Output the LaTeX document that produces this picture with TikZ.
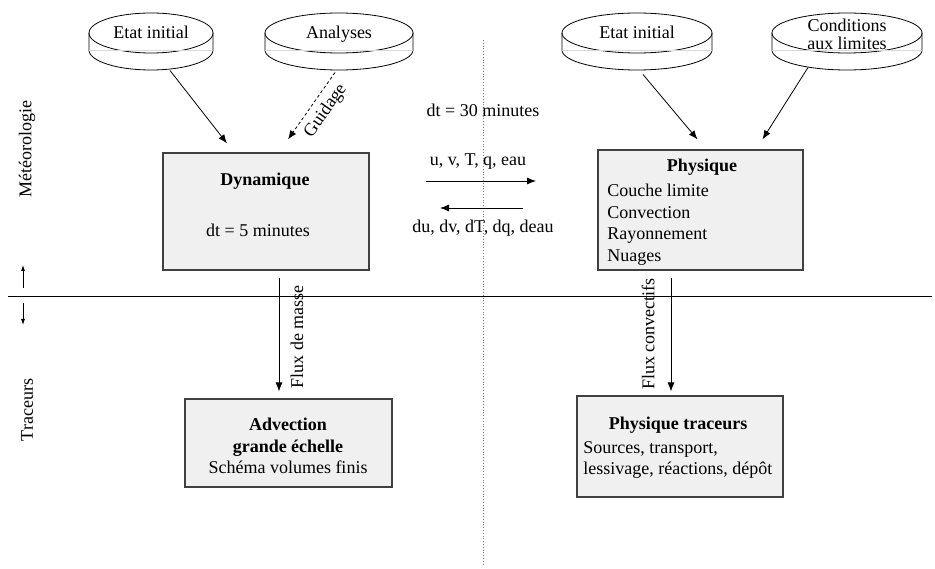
\documentclass[tikz,border=0pt]{standalone}
\usepackage{fontspec}
\setmainfont{Liberation Serif}
\usetikzlibrary{arrows.meta}

% disque de donnees : #1 nom, #2 centre x, #3 demi-largeur, #4 texte
\newcommand{\disque}[4]{%
  \draw[fill=white] plot[domain=0:360,samples=73,smooth] ({#2+#3*cos(\x)},{33+20*sin(\x)}) -- cycle;
  \draw (#2-#3,33) -- (#2-#3,50) -- plot[domain=180:360,samples=37,smooth] ({#2+#3*cos(\x)},{50-20*sin(\x)}) -- (#2+#3,33);
  \draw[gray!30,line width=0.6pt] (#2-#3,50) -- (#2+#3,50);
  \node[align=center] (#1) at (#2,34.5) {#4};
}

\begin{document}
\fontsize{18}{21.6}\selectfont
\begin{tikzpicture}[x=1pt,y=-1pt,line width=0.8pt,
  fleche/.style={-{Latex[length=9pt,width=7pt]}},
  petite/.style={-{Latex[length=6pt,width=4pt]}},
  boite/.style={draw=black!75,line width=1.2pt,fill=gray!12,inner sep=0pt}]
	\useasboundingbox (0,0) rectangle (935,569);
	% separations
	\draw[gray,dash pattern=on 1pt off 1.8pt] (483,40) -- (483,566);
	\draw (8,296) -- (932,296);
	% the left side labels
	\node[rotate=90] (meteo) at (27,149) {Météorologie};
	\node[rotate=90] (trac) at (27,410) {Traceurs};
	\draw[petite] (23,288) -- (23,265);
	\draw[petite] (23,303) -- (23,325);
	% data discs
	\disque{ei1}{151}{62}{\strut Etat initial}
	\disque{ana}{339}{74}{\strut Analyses}
	\disque{ei2}{637}{75}{\strut Etat initial}
	\disque{cl}{847}{75}{Conditions\\[-3.6pt]aux limites}
	% boxes
	\node[boite,minimum width=206pt,minimum height=117pt] (dyn) at (266,211.5) {};
	\node[boite,minimum width=205pt,minimum height=120pt] (phys) at (700.5,210) {};
	\node[boite,minimum width=207pt,minimum height=88pt] (adv) at (288.5,443) {};
	\node[boite,minimum width=206pt,minimum height=101pt] (ptr) at (680,446.5) {};
	% Dynamique
	\node (dyn-t) at (265,181) {\textbf{Dynamique}};
	\node (dyn-dt) at (258,230) {dt = 5 minutes};
	% Physique
	\node (phys-t) at (702,167) {\textbf{Physique}};
	\node[anchor=west,align=left,inner sep=0pt] (phys-l) at (607,224.5) {Couche limite\\Convection\\Rayonnement\\Nuages};
	% Advection
	\node[align=center] (adv-t) at (288,446) {\textbf{Advection}\\\textbf{grande échelle}\\Schéma volumes finis};
	% Physique traceurs
	\node (ptr-t) at (678,425) {\textbf{Physique traceurs}};
	\node[anchor=west,align=left,inner sep=0pt] (ptr-l) at (583,460) {Sources, transport,\\lessivage, réactions, dépôt};
	% couplage
	\node (dt30) at (483,110) {dt = 30 minutes};
	\node (uv) at (478,162) {u, v, T, q, eau};
	\node (du) at (483,228) {du, dv, dT, dq, deau};
	\coordinate (aller-a) at (426,181);
	\coordinate (aller-b) at (536,181);
	\coordinate (retour-a) at (523,208);
	\coordinate (retour-b) at (440,208);
	\draw[fleche] (aller-a) -- (aller-b);
	\draw[fleche] (retour-a) -- (retour-b);
	% entrees
	\draw[fleche] ([xshift=19pt,yshift=-36pt]ei1.center) -- ([xshift=-39pt,yshift=9pt]dyn.north);
	\draw[fleche,dash pattern=on 3pt off 2.5pt] ([xshift=-4pt,yshift=-38pt]ana.center) -- ([xshift=22pt,yshift=13pt]dyn.north)
		node[pos=0.45,below,sloped] {Guidage};
	\draw[fleche] ([xshift=6pt,yshift=-40pt]ei2.center) -- ([xshift=-3pt,yshift=10pt]phys.north);
	\draw[fleche] ([xshift=-39pt,yshift=-33pt]cl.center) -- ([xshift=62pt,yshift=10pt]phys.north);
	% flux vers les traceurs
	\node[rotate=90] (fm) at (297,337) {Flux de masse};
	\node[rotate=90] (fc) at (648,334) {Flux convectifs};
	\draw[fleche] ([xshift=13pt,yshift=-7pt]dyn.south) -- ([xshift=-9.5pt,yshift=7pt]adv.north);
	\draw[fleche] ([xshift=-29.5pt,yshift=-7pt]phys.south) -- ([xshift=-9pt,yshift=4pt]ptr.north);
\end{tikzpicture}
\end{document}
